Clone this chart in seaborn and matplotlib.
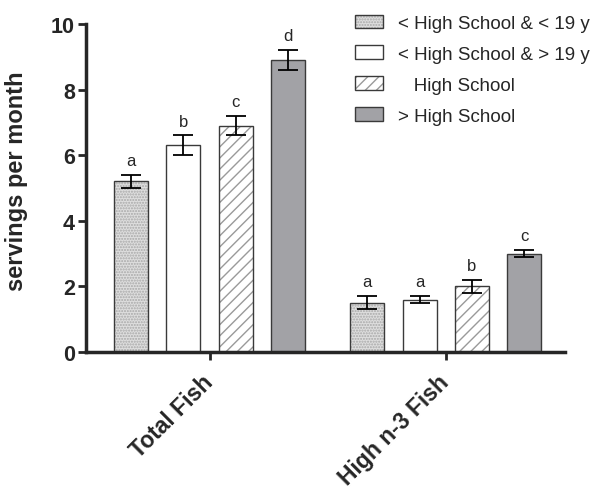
import matplotlib
matplotlib.use("Agg")
import matplotlib.colors as mcolors
import matplotlib.pyplot as plt
import pandas as pd
import seaborn as sns

# ── data ────────────────────────────────────────────────────
categories = ["Total Fish", "High n-3 Fish"]
groups = ["< High School & < 19 y", "< High School & > 19 y",
          "High School", "> High School"]
legend_labels = ["< High School & < 19 y", "< High School & > 19 y",
                 "   High School", "> High School"]

total_fish = [5.2, 6.3, 6.9, 8.9]
total_fish_err = [0.2, 0.3, 0.3, 0.3]
total_fish_letters = ["a", "b", "c", "d"]

high_n3 = [1.5, 1.6, 2.0, 3.0]
high_n3_err = [0.2, 0.12, 0.2, 0.1]
high_n3_letters = ["a", "a", "b", "c"]

df = pd.DataFrame({
    "category": [categories[0]] * 4 + [categories[1]] * 4,
    "group": groups * 2,
    "value": total_fish + high_n3,
    "err": total_fish_err + high_n3_err,
    "letter": total_fish_letters + high_n3_letters,
})

# bar styles per group
face = {groups[0]: "#dedede", groups[1]: "white",
        groups[2]: "white", groups[3]: "#a2a2a6"}
hatch = {groups[0]: "......", groups[1]: None, groups[2]: "///", groups[3]: None}
hatch_col = {groups[0]: "#a8a8a8", groups[2]: "#9a9a9a"}

sns.set_style("ticks")
plt.rcParams["font.family"] = ["Liberation Sans", "DejaVu Sans"]
plt.rcParams["hatch.linewidth"] = 1.0

fig = plt.figure(figsize=(5.98, 4.89), dpi=100)
ax = fig.add_axes([0.144, 0.278, 0.801, 0.671])

sns.barplot(data=df, x="category", y="value", hue="group", order=categories,
            hue_order=groups, palette=face, width=0.886, gap=0.35,
            errorbar=None, edgecolor="#3a3a3a", linewidth=1.0,
            saturation=1, ax=ax, legend=False)

bar_conts = list(ax.containers)
for g, cont in zip(groups, bar_conts):
    sub = df[df["group"] == g].set_index("category").loc[categories]
    for p, (_, row) in zip(cont.patches, sub.iterrows()):
        if hatch[g]:
            p.set_hatch(hatch[g])
            # lighter hatch than the bar outline
            p._hatch_color = mcolors.to_rgba(hatch_col[g])
            p.stale = True
        cx = p.get_x() + p.get_width() / 2
        top = p.get_height()
        ax.errorbar(cx, top, yerr=row["err"], fmt="none", ecolor="black",
                    elinewidth=1.3, capsize=7, capthick=1.3, zorder=4)
        ax.annotate(row["letter"], (cx, top + row["err"]), xytext=(0, 5),
                    textcoords="offset points", ha="center", va="bottom",
                    fontsize=12)

ax.set_ylim(0, 10)
ax.set_xlim(-0.523, 1.506)
ax.set_yticks([0, 2, 4, 6, 8, 10])
ax.set_xlabel("")
ax.set_ylabel("servings per month", fontsize=17, fontweight="bold")
ax.yaxis.set_label_coords(-0.121, 0.524)
ax.tick_params(axis="y", labelsize=15.5, width=2, length=6, direction="out", pad=2)
ax.tick_params(axis="x", labelsize=16.5, width=2, length=6, direction="out", pad=13)
for lab in ax.get_yticklabels():
    lab.set_fontweight("bold")
for lab in ax.get_xticklabels():
    lab.set_fontweight("bold")
    lab.set_rotation(45)
    lab.set_ha("right")
    lab.set_va("center")
    lab.set_rotation_mode("anchor")

sns.despine(ax=ax)
for s in ["left", "bottom"]:
    ax.spines[s].set_linewidth(2.5)

handles = [cont.patches[0] for cont in bar_conts]
fig.legend(handles, legend_labels, loc="upper left",
           bbox_to_anchor=(0.571, 0.995), frameon=False, fontsize=13.5,
           handlelength=1.5, handleheight=0.75, handletextpad=0.8,
           labelspacing=0.72, borderaxespad=0.3)

fig.savefig("out.png", dpi=100)
